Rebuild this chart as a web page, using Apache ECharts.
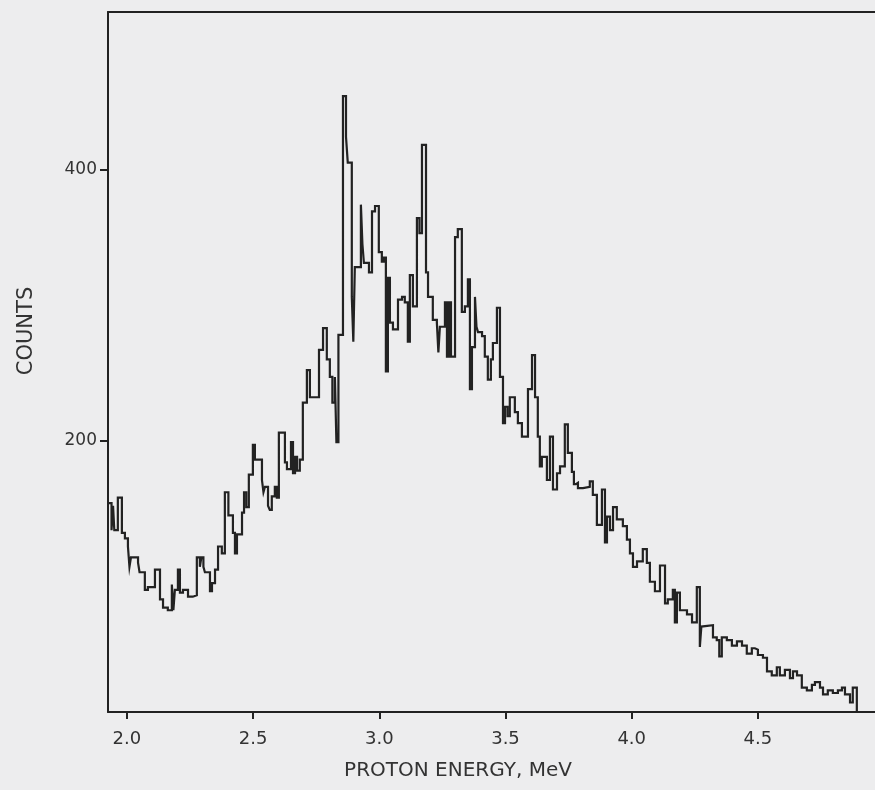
<!DOCTYPE html>
<html>
<head>
<meta charset="utf-8">
<title>Proton energy spectrum</title>
<script src="https://cdn.jsdelivr.net/npm/echarts@6/dist/echarts.min.js"></script>
<style>
  html, body { margin: 0; padding: 0; background: #ededee; }
  #chart { width: 875px; height: 790px; }
</style>
</head>
<body>
<div id="chart"></div>
<script>
// left edge of each channel step (MeV) and its count
const energyMeV = [
  1.925, 1.939, 1.945, 1.950, 1.964, 1.980, 1.992, 2.004, 2.010, 2.016,
  2.044, 2.050, 2.071, 2.083, 2.111, 2.131, 2.143, 2.162, 2.178, 2.184,
  2.190, 2.202, 2.210, 2.222, 2.242, 2.261, 2.277, 2.289, 2.295, 2.303,
  2.309, 2.329, 2.337, 2.349, 2.361, 2.376, 2.388, 2.402, 2.420, 2.428,
  2.436, 2.456, 2.464, 2.473, 2.483, 2.499, 2.507, 2.535, 2.541, 2.547,
  2.559, 2.566, 2.574, 2.586, 2.594, 2.602, 2.626, 2.634, 2.650, 2.658,
  2.666, 2.674, 2.685, 2.697, 2.713, 2.725, 2.761, 2.777, 2.792, 2.804,
  2.814, 2.824, 2.830, 2.838, 2.856, 2.868, 2.875, 2.891, 2.897, 2.903,
  2.927, 2.933, 2.939, 2.959, 2.971, 2.983, 2.998, 3.010, 3.018, 3.026,
  3.034, 3.042, 3.054, 3.074, 3.090, 3.101, 3.113, 3.121, 3.133, 3.149,
  3.159, 3.169, 3.185, 3.193, 3.212, 3.228, 3.234, 3.240, 3.260, 3.268,
  3.276, 3.284, 3.300, 3.311, 3.327, 3.339, 3.351, 3.359, 3.367, 3.379,
  3.385, 3.391, 3.407, 3.418, 3.430, 3.442, 3.450, 3.466, 3.478, 3.490,
  3.498, 3.508, 3.517, 3.537, 3.549, 3.565, 3.589, 3.605, 3.617, 3.628,
  3.636, 3.644, 3.664, 3.676, 3.688, 3.704, 3.716, 3.735, 3.747, 3.763,
  3.771, 3.779, 3.787, 3.807, 3.834, 3.846, 3.862, 3.882, 3.894, 3.902,
  3.914, 3.926, 3.941, 3.965, 3.981, 3.993, 4.005, 4.021, 4.044, 4.060,
  4.072, 4.092, 4.112, 4.132, 4.143, 4.163, 4.171, 4.179, 4.191, 4.219,
  4.239, 4.258, 4.270, 4.276, 4.282, 4.322, 4.337, 4.347, 4.357, 4.377,
  4.397, 4.417, 4.437, 4.456, 4.476, 4.488, 4.500, 4.520, 4.536, 4.555,
  4.575, 4.587, 4.607, 4.627, 4.639, 4.655, 4.674, 4.694, 4.714, 4.726,
  4.746, 4.758, 4.777, 4.797, 4.817, 4.833, 4.845, 4.865, 4.876, 4.892
]
const counts = [
  154, 134, 152, 134, 158, 132, 128, 122, 107, 114,
  110, 103, 90, 92, 105, 83, 77, 75, 94, 75,
  90, 105, 88, 90, 85, 86, 114, 107, 114, 107,
  103, 89, 95, 105, 122, 117, 162, 145, 132, 117,
  131, 147, 162, 151, 175, 197, 186, 171, 162, 166,
  152, 149, 159, 166, 158, 206, 184, 179, 199, 176,
  188, 178, 186, 228, 252, 232, 267, 283, 260, 247,
  228, 247, 199, 278, 454, 424, 405, 306, 273, 328,
  374, 345, 331, 324, 369, 373, 339, 332, 335, 251,
  320, 287, 282, 304, 306, 302, 273, 322, 299, 364,
  353, 418, 324, 306, 289, 287, 265, 284, 302, 262,
  302, 262, 350, 356, 295, 299, 319, 238, 269, 306,
  284, 280, 277, 262, 245, 260, 272, 298, 247, 213,
  225, 218, 232, 221, 213, 203, 238, 263, 232, 203,
  181, 188, 171, 203, 164, 176, 181, 212, 191, 177,
  168, 169, 165, 166, 170, 160, 138, 164, 125, 144,
  134, 151, 142, 137, 127, 117, 107, 111, 120, 110,
  96, 89, 108, 80, 83, 90, 66, 88, 75, 72,
  66, 92, 48, 63, 64, 55, 53, 41, 55, 53,
  49, 52, 49, 43, 47, 46, 42, 40, 30, 27,
  33, 27, 31, 25, 30, 27, 18, 16, 20, 22,
  18, 13, 16, 14, 16, 18, 13, 7, 18, 0
]
const energyTicks = [2.0, 2.5, 3.0, 3.5, 4.0, 4.5]
const countTicks = [200, 400]

const ink = '#222'
const font = 'DejaVu Sans'
const chart = echarts.init(document.getElementById('chart'))

chart.setOption({
  backgroundColor: '#ededee',
  animation: false,
  grid: { left: 108, right: 0, top: 12, bottom: 78 },
  xAxis: [
    {
      type: 'value',
      min: 1.925,
      max: 4.964,
      axisLine: { onZero: false, lineStyle: { color: ink, width: 2 } },
      axisTick: { customValues: energyTicks, length: 7, lineStyle: { color: ink, width: 2 } },
      axisLabel: {
        customValues: energyTicks,
        formatter: (v) => v.toFixed(1),
        margin: 18,
        fontSize: 18,
        fontFamily: font,
        color: '#333',
      },
      splitLine: { show: false },
    },
    {
      // top frame line
      type: 'value',
      position: 'top',
      min: 1.925,
      max: 4.964,
      axisLine: { onZero: false, lineStyle: { color: ink, width: 2 } },
      axisTick: { show: false },
      axisLabel: { show: false },
      splitLine: { show: false },
    },
  ],
  yAxis: {
    type: 'value',
    min: 0,
    max: 516,
    axisLine: { show: true, onZero: false, lineStyle: { color: ink, width: 2 } },
    axisTick: { show: true, customValues: countTicks, length: 8, lineStyle: { color: ink, width: 2 } },
    axisLabel: {
      customValues: countTicks,
      margin: 11,
      fontSize: 17,
      fontFamily: font,
      color: '#333',
    },
    splitLine: { show: false },
  },
  graphic: [
    {
      type: 'text',
      x: 27,
      y: 331,
      rotation: Math.PI / 2,
      style: {
        text: 'COUNTS',
        font: '21px "DejaVu Sans"',
        fill: '#333',
        align: 'center',
        verticalAlign: 'middle',
      },
    },
    {
      type: 'text',
      x: 458,
      y: 771,
      style: {
        text: 'PROTON ENERGY, MeV',
        font: '20px "DejaVu Sans"',
        fill: '#333',
        align: 'center',
        verticalAlign: 'middle',
      },
    },
  ],
  series: [
    {
      type: 'line',
      step: 'end',
      symbol: 'none',
      data: energyMeV.map((e, i) => [e, counts[i]]),
      lineStyle: { color: ink, width: 2.2, join: 'miter' },
    },
  ],
})
</script>
</body>
</html>
